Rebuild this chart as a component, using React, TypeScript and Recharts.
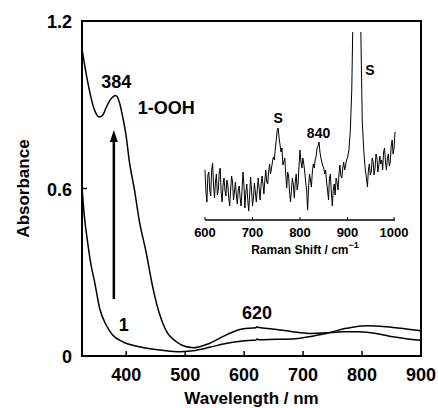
import { LineChart, Line, XAxis, YAxis, ReferenceArea, ReferenceLine, ReferenceDot, Label } from 'recharts';

// UV-vis: 1-OOH (formed) and 1 (starting complex)
const oohWavelength = [325, 330, 335, 340, 345, 350, 355, 360, 366, 372, 378, 382, 388, 394, 400, 405, 414, 422, 434, 445, 456, 467, 485, 502, 515, 541, 569, 597, 620, 622, 625, 648, 682, 710, 739, 773, 807, 841, 875, 900];
const oohAbsorbance = [1.1, 1.036, 0.978, 0.928, 0.888, 0.864, 0.856, 0.862, 0.89, 0.915, 0.929, 0.933, 0.912, 0.857, 0.786, 0.702, 0.595, 0.487, 0.369, 0.247, 0.154, 0.093, 0.051, 0.033, 0.03, 0.045, 0.075, 0.097, 0.101, 0.105, 0.102, 0.097, 0.087, 0.081, 0.083, 0.099, 0.108, 0.105, 0.097, 0.09];

const oneWavelength = [325, 329, 334, 340, 346, 355, 366, 377, 394, 422, 461, 490, 513, 541, 569, 597, 620, 622, 625, 654, 682, 710, 739, 767, 795, 824, 852, 900];
const oneAbsorbance = [0.606, 0.5, 0.416, 0.33, 0.27, 0.17, 0.111, 0.075, 0.051, 0.033, 0.021, 0.015, 0.019, 0.031, 0.045, 0.054, 0.057, 0.061, 0.058, 0.06, 0.061, 0.069, 0.081, 0.087, 0.087, 0.081, 0.069, 0.056];

const xTicks = [400, 500, 600, 700, 800, 900];
const yTicks = [0, 0.6, 1.2];

// inset: resonance Raman
const ramanShift = [
  600, 602, 604, 606, 608, 610, 612, 614, 616, 618, 620, 622, 624, 626, 628, 630, 632, 634, 636, 638,
  640, 642, 644, 646, 648, 650, 652, 654, 656, 658, 660, 662, 664, 666, 668, 670, 672, 674, 676, 678,
  680, 682, 684, 686, 688, 690, 692, 694, 696, 698, 700, 702, 704, 706, 708, 710, 712, 714, 716, 718,
  720, 722, 724, 726, 728, 730, 732, 734, 736, 738, 740, 742, 744, 746, 748, 750, 752, 754, 756, 758,
  760, 762, 764, 766, 768, 770, 772, 774, 776, 778, 780, 782, 784, 786, 788, 790, 792, 794, 796, 798,
  800, 802, 804, 806, 808, 810, 812, 814, 816, 818, 820, 822, 824, 826, 828, 830, 832, 834, 836, 838,
  840, 842, 844, 846, 848, 850, 852, 854, 856, 858, 860, 862, 864, 866, 868, 870, 872, 874, 876, 878,
  880, 882, 884, 886, 888, 890, 892, 894, 896, 898, 900, 903, 906, 909, 911, 914, 920, 926, 928, 931,
  934, 936, 938, 940, 942, 944, 946, 948, 950, 952, 954, 956, 958, 960, 962, 964, 966, 968, 970, 972,
  974, 976, 978, 980, 982, 984, 986, 988, 990, 992, 994, 996, 998, 1000,
];
const ramanIntensity = [
  50, 28, 18, 45, 48, 30, 24, 50, 57, 35, 22, 38, 46, 25, 30, 48, 52, 28, 18, 35,
  42, 30, 24, 40, 35, 22, 14, 30, 44, 38, 20, 28, 38, 25, 16, 30, 34, 22, 14, 30,
  48, 35, 12, 28, 36, 20, 9, 25, 43, 30, 14, 22, 37, 28, 18, 30, 42, 32, 20, 35,
  44, 36, 26, 40, 50, 38, 36, 48, 56, 46, 52, 58, 63, 60, 72, 80, 90, 92, 82, 75,
  68, 72, 55, 58, 62, 45, 32, 48, 44, 28, 18, 30, 42, 35, 22, 38, 46, 30, 36, 55,
  70, 58, 52, 62, 56, 48, 38, 30, 10, 32, 46, 40, 33, 48, 56, 52, 60, 64, 72, 74,
  78, 68, 62, 58, 54, 52, 46, 50, 38, 30, 20, 42, 46, 28, 14, 30, 36, 25, 42, 38,
  30, 46, 55, 44, 42, 52, 58, 50, 54, 60, 62, 70, 90, 130, 190, 400, 400, 400, 190, 100,
  72, 58, 48, 42, 33, 50, 56, 45, 48, 62, 58, 45, 52, 66, 62, 48, 55, 64, 56, 60,
  50, 68, 72, 58, 50, 62, 66, 54, 58, 74, 80, 66, 72, 88,
];
const ramanTicks = [600, 700, 800, 900, 1000];

const mainNotes = [
  { x: 383, y: 0.981, text: '384' },
  { x: 468, y: 0.888, text: '1-OOH' },
  { x: 396, y: 0.111, text: '1' },
  { x: 622, y: 0.154, text: '620' },
];
const insetNotes = [
  { x: 754, y: 102, text: 'S' },
  { x: 839, y: 87, text: '840' },
  { x: 947, y: 150, text: 'S' },
];

const font = '"Liberation Sans", Arial, Helvetica, sans-serif';

const oohData = oohWavelength.map((nm, i) => ({ nm, abs: oohAbsorbance[i] }));
const oneData = oneWavelength.map((nm, i) => ({ nm, abs: oneAbsorbance[i] }));
const ramanData = ramanShift.map((shift, i) => ({ shift, counts: ramanIntensity[i] }));

const XTick = ({ x, y, payload }: any) => (
  <g>
    <line x1={x} x2={x} y1={y} y2={y - 5} stroke="#000" strokeWidth={1.5} />
    <text x={x} y={y + 19} textAnchor="middle" dominantBaseline="central" fontFamily={font} fontWeight="bold" fontSize={18} fill="#000">
      {payload.value}
    </text>
  </g>
);

const YTick = ({ x, y, payload }: any) => (
  <g>
    <line x1={x} x2={x + 5} y1={y} y2={y} stroke="#000" strokeWidth={1.5} />
    <text x={x - 10} y={y + 1} textAnchor="end" dominantBaseline="central" fontFamily={font} fontWeight="bold" fontSize={18} fill="#000">
      {payload.value}
    </text>
  </g>
);

const InsetTick = ({ x, y, payload }: any) => (
  <g>
    <line x1={x} x2={x} y1={y} y2={y - 3} stroke="#000" strokeWidth={1} />
    <text x={x} y={y + 12} textAnchor="middle" dominantBaseline="central" fontFamily={font} fontWeight="bold" fontSize={13} fill="#000">
      {payload.value}
    </text>
  </g>
);

const noteShape = (text: string, size: number) => (props: any) => (
  <text x={props.cx} y={props.cy} textAnchor="middle" dominantBaseline="central" fontFamily={font} fontWeight="bold" fontSize={size} fill="#000">
    {text}
  </text>
);

const arrowHead = (props: any) => (
  <path d={`M${props.cx},${props.cy} L${props.cx - 4},${props.cy + 12} L${props.cx + 4},${props.cy + 12} Z`} fill="#000" />
);

export default function App() {
  return (
    <div style={{ position: 'absolute', left: 0, top: 0, width: 438, height: 408, background: '#fff' }}>
      <LineChart width={438} height={408} margin={{ top: 21, right: 17, left: 0, bottom: 0 }}>
        <XAxis
          dataKey="nm"
          type="number"
          domain={[325, 900]}
          ticks={xTicks}
          allowDuplicatedCategory={false}
          height={52}
          tickSize={0}
          tickMargin={0}
          axisLine={false}
          tick={<XTick />}
        >
          <Label
            content={({ viewBox }: any) => (
              <text x={viewBox.x + viewBox.width / 2} y={viewBox.y + 42} textAnchor="middle" dominantBaseline="central" fontFamily={font} fontWeight="bold" fontSize={17} fill="#000">
                Wavelength / nm
              </text>
            )}
          />
        </XAxis>
        <YAxis
          type="number"
          domain={[0, 1.2]}
          ticks={yTicks}
          width={82}
          tickSize={0}
          tickMargin={0}
          axisLine={false}
          tick={<YTick />}
        >
          <Label
            content={({ viewBox }: any) => {
              const cx = viewBox.x + 23;
              const cy = viewBox.y + viewBox.height / 2;
              return (
                <text x={cx} y={cy} transform={`rotate(-90 ${cx} ${cy})`} textAnchor="middle" dominantBaseline="central" fontFamily={font} fontWeight="bold" fontSize={17} fill="#000">
                  Absorbance
                </text>
              );
            }}
          />
        </YAxis>
        <ReferenceArea x1={325} x2={900} y1={0} y2={1.2} fill="none" stroke="#000" strokeWidth={2} />
        <Line data={oohData} dataKey="abs" type="monotone" stroke="#000" strokeWidth={1.5} dot={false} isAnimationActive={false} />
        <Line data={oneData} dataKey="abs" type="monotone" stroke="#000" strokeWidth={1.5} dot={false} isAnimationActive={false} />
        <ReferenceLine segment={[{ x: 379, y: 0.204 }, { x: 379, y: 0.77 }]} stroke="#000" strokeWidth={2.5} />
        <ReferenceDot x={379} y={0.81} r={0} shape={arrowHead} />
        {mainNotes.map((n) => (
          <ReferenceDot key={n.text} x={n.x} y={n.y} r={0} shape={noteShape(n.text, 18)} />
        ))}
      </LineChart>

      <div style={{ position: 'absolute', left: 180, top: 20 }}>
        <LineChart width={230} height={240} data={ramanData} margin={{ top: 12, right: 15, left: 25, bottom: 0 }}>
          <XAxis
            dataKey="shift"
            type="number"
            domain={[600, 1000]}
            ticks={ramanTicks}
            height={40}
            tickSize={0}
            tickMargin={0}
            axisLine={{ stroke: '#000', strokeWidth: 1.5 }}
            tick={<InsetTick />}
          >
            <Label
              content={({ viewBox }: any) => (
                <text x={viewBox.x + viewBox.width / 2 + 5} y={viewBox.y + 30} textAnchor="middle" dominantBaseline="central" fontFamily={font} fontWeight="bold" fontSize={12} fill="#000">
                  Raman Shift / cm
                  <tspan dy={-5} fontSize={9}>−1</tspan>
                </text>
              )}
            />
          </XAxis>
          <YAxis type="number" domain={[0, 188]} allowDataOverflow hide />
          <Line dataKey="counts" type="linear" stroke="#000" strokeWidth={1} dot={false} isAnimationActive={false} />
          {insetNotes.map((n, i) => (
            <ReferenceDot key={i} x={n.x} y={n.y} r={0} shape={noteShape(n.text, 14)} />
          ))}
        </LineChart>
      </div>
    </div>
  );
}
